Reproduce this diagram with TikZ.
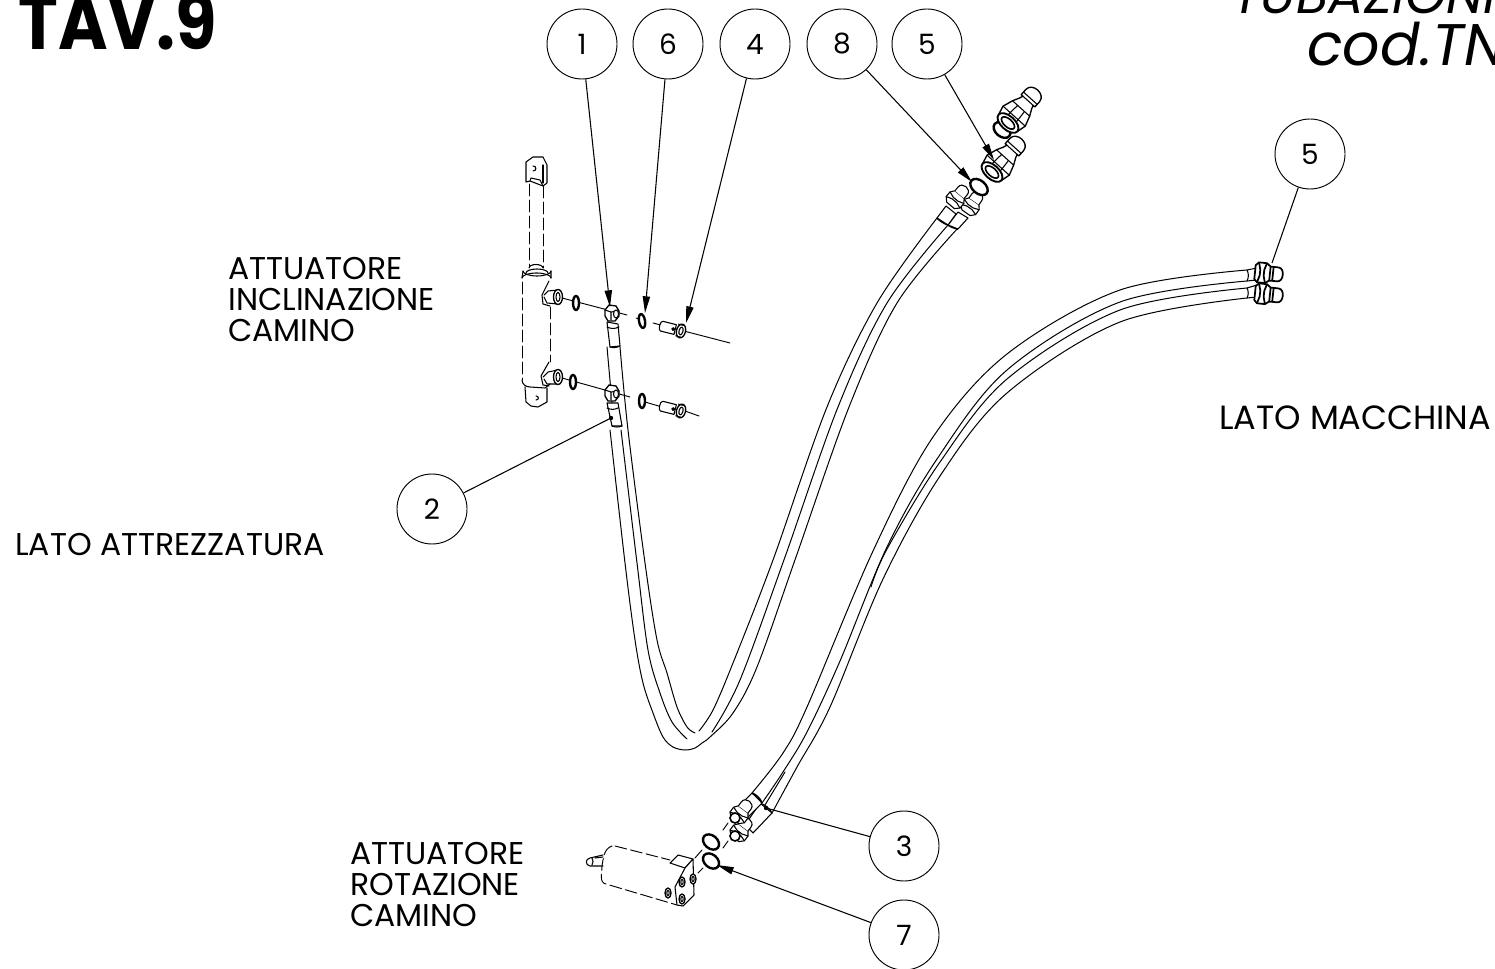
\documentclass[tikz,border=0pt]{standalone}
\usepackage{fontspec}
\setmainfont{Poppins}
\usetikzlibrary{arrows.meta}
\tikzset{
  x=0.75pt,y=-0.75pt,
  thin line/.style={line width=0.7pt,line cap=round,line join=round},
  part/.style={line width=0.8pt,line join=round,line cap=round},
  heavy/.style={line width=1.3pt,line join=round},
  dashline/.style={line width=0.7pt,dash pattern=on 9pt off 3pt},
  hose/.style={line width=0.75pt,line cap=round},
  bubble/.style={circle,draw,line width=0.7pt,minimum size=52.5pt,inner sep=0pt,font=\fontsize{21}{21}\selectfont},
  leader/.style={line width=0.8pt},
  tip/.style={leader,-{Stealth[length=12.5pt,width=5.5pt,inset=0pt]}},
  lbl/.style={inner sep=0pt,anchor=base west,font=\fontsize{23.6}{23.25}\selectfont,align=left},
}
% flat sealing ring: centre x,y, major radius, minor radius, rotation
\newcommand{\seal}[5]{\begin{scope}[shift={(#1,#2)},rotate=#5]
  \draw[line width=1.8pt,fill=white] (0,0) ellipse [x radius=#3,y radius=#4];
\end{scope}}
% hexagon nut with round nose, axis along local x
\newcommand{\hosenut}[3]{\begin{scope}[shift={(#1,#2)},rotate=#3,part]
  \draw[fill=white] (-7,-5)--(-3,-9)--(3,-9)--(7,-6)--(7,6)--(3,9)--(-3,9)--(-7,5)--cycle;
  \draw (-3,-9)--(-1,-3)--(-1,3)--(-3,9) (3,-9)--(1,-3)--(1,3)--(3,9);
  \draw[fill=white] (7,-6)--(12,-6) to[out=0,in=0,looseness=1.5] (12,6)--(7,6);
\end{scope}}
% quick coupling, axis along local x from the open face
\newcommand{\coupling}[3]{\begin{scope}[shift={(#1,#2)},rotate=#3,scale=1.15,part]
  \draw[fill=white,line width=1pt] (0,-11)--(8,-13)--(17,-10)--(23,-7)--(26,-6)--(26,-8)--(32,-8) to[out=0,in=0,looseness=1.4] (32,8)--(26,8)--(26,6)--(23,7)--(17,10)--(8,13)--(0,11)--cycle;
  \draw (8,-13)--(8,13) (17,-10)--(17,10) (2,-5)--(17,-4) (2,5)--(17,4) (26,-6)--(26,6) (29,-8)--(29,8);
  \draw[line width=1.4pt,fill=white] (0,0) ellipse [x radius=6,y radius=11];
  \draw[line width=1.2pt,fill=white] (0,0) ellipse [x radius=3.5,y radius=7];
\end{scope}}
% banjo nut on the actuator side
\newcommand{\banjo}[2]{\begin{scope}[shift={(#1,#2)},part]
  \draw[line width=1pt,fill=white] (-7,-3)--(-3,-8)--(4,-7)--(7,-2)--(7,3)--(3,8)--(-4,8)--(-7,3)--cycle;
  \draw (-7,-3)--(-1,-1)--(7,-2) (-1,-1)--(-1,7);
  \draw[fill=white] (4,1) ellipse [x radius=2.5,y radius=4];
\end{scope}}
% hollow screw
\newcommand{\bolt}[2]{\begin{scope}[shift={(#1,#2)},rotate=-14,part]
  \draw[fill=white] (-20,-5)--(-6,-5)--(-6,5)--(-20,5) to[out=180,in=180,looseness=.7] cycle;
  \draw[fill=black] (-8,0) circle [radius=1.4];
  \draw[line width=1pt,fill=white] (0,0) ellipse [x radius=4.5,y radius=7];
  \draw (0,0) ellipse [x radius=2,y radius=4] (-4,-6)--(1,-6) (-4,6)--(1,6);
\end{scope}}
\begin{document}
\begin{tikzpicture}
\useasboundingbox (0,0) rectangle (1495,969);
\clip (0,0) rectangle (1495,969);

% ---------- hoses, actuator to machine pair
\draw[hose] plot[smooth,tension=.55] coordinates {(620,347)(628,430)(645,563)(657,640)(667,673)(677,707)(687,727)(695,733)};
\draw[hose] plot[smooth,tension=.55] coordinates {(699,731)(713,710)(733,663)(773,560)(827,407)(877,303)(937,218)};
\draw[hose] plot[smooth,tension=.55] coordinates {(610,430)(625,563)(635,640)(643,683)(653,713)(663,737)(673,747)(685,750)(695,748)(702,743)(710,737)(733,713)(757,667)(796,557)(849,407)(897,303)(958,228)};
\draw[hose] plot[smooth,tension=.55] coordinates {(621,430)(637,563)(648,650)(660,693)(672,722)(687,739)};
\draw[hose] plot[smooth,tension=.55] coordinates {(712,732)(740,680)(785,557)(838,407)(887,303)(948,225)};
\draw[hose] (607,347)--(612,403);
% ---------- hoses, rotation actuator to machine
\draw[hose] plot[smooth,tension=.55] coordinates {(1247,270)(1120,290)(1007,354)(933,437)(873,551)(807,707)(783,753)(752,793)};
\draw[hose] plot[smooth,tension=.55] coordinates {(1247,281)(1120,302)(1007,370)(937,459)(887,547)(840,661)(807,732)(783,772)(762,803)};
\draw[hose] plot[smooth,tension=.55] coordinates {(1247,288)(1120,310)(1007,379)(940,462)(887,549)(871,587)};
\draw[hose] (785,772)--(765,805);
\draw[hose] plot[smooth,tension=.55] coordinates {(1247,298)(1120,322)(1007,393)(940,476)(883,579)(830,707)(797,767)(772,813)};

% ---------- upper end of the first pair
\draw[heavy] (937,218) to[bend right=10] (948,225);
\draw[heavy] (948,225) to[bend right=10] (958,229);
\draw[part,fill=white] (948,225)--(958,212)--(968,218)--(958,229)--cycle;
\draw[part,fill=white] (937,218)--(946,206)--(956,214)--(948,225)--cycle;
\hosenut{970}{207}{55}
\hosenut{955}{200}{50}

% ---------- machine end of the second pair
\begin{scope}[part]
\draw[fill=white] (1247,270) to[bend left=25] (1247,281) -- (1257,280) -- (1257,268) -- cycle;
\draw[fill=white] (1247,288) to[bend left=25] (1247,298) -- (1257,297) -- (1257,285) -- cycle;
\end{scope}
\begin{scope}[line width=1.3pt,line join=round]
\foreach \yy in {272,293} {
\begin{scope}[shift={(1255,\yy)},rotate=-6]
\draw[fill=white] (14,-7)--(23,-7) to[out=0,in=0,looseness=1.2] (23,7)--(14,7)--cycle;
\draw[fill=white] (0,-7)--(3,-10)--(11,-10)--(15,-7)--(15,7)--(11,10)--(3,10)--(0,7)--cycle;
\draw (3,-10)--(5,-3)--(5,3)--(3,10) (11,-10)--(9,-3)--(9,3)--(11,10) (18,-7)--(18,7);
\end{scope}}
\end{scope}

% ---------- lower ends of the second pair
\draw[part,fill=white] (760,803)--(772,813)--(753,833)--(745,825)--cycle;
\draw[part] (760,803) to[bend left=20] (772,813);
\draw[part,fill=white] (752,793)--(762,803)--(747,818)--(738,807)--cycle;
\draw[heavy] (752,793) to[bend left=20] (762,803);
\hosenut{739}{833}{53}
\hosenut{739}{815}{53}
\begin{scope}[line width=1.2pt]
\draw[fill=white] (735,818) ellipse [x radius=5,y radius=5];
\draw[fill=white] (735,836) ellipse [x radius=5,y radius=5];
\end{scope}
\draw[thin line] (728,823)--(723,830) (728,841)--(723,848) (702,850)--(695,858) (703,868)--(698,873);
\seal{711}{842}{9}{6.5}{-40}
\seal{711}{861}{9}{6.5}{-40}

% ---------- rotation actuator
\begin{scope}[part]
\draw (603,855)--(590,858) to[out=190,in=170,looseness=1.6] (590,866)--(603,866);
\draw (592,858) to[bend left=30] (592,865);
\draw (595,858)--(603,857);
\draw[dashline] (612,846) to[out=200,in=80] (602,866) to[out=270,in=170] (606,884)--(677,905);
\draw[dashline] (615,846)--(670,860);
\draw (670,863)--(678,855)--(693,859)--(685,868)--cycle;
\draw[fill=white] (693,859)--(694,895)--(683,906)--(677,905)--(675,887)--(685,868)--cycle;
\foreach \sx/\sy in {682/882,693/879,682/899,668/893} {
  \draw[line width=1pt,fill=white] (\sx,\sy) ellipse [x radius=3,y radius=5];
  \draw (\sx,\sy) ellipse [x radius=1.2,y radius=2.5];
}
\end{scope}

% ---------- tilt actuator
\begin{scope}[part]
\draw (526,182)--(526,162)--(533,157)--(543,157)--(547,165)--(547,183)--(543,186)--(530,181)--cycle;
\draw (533,166) to[out=0,in=0,looseness=2] (533,171);
\draw (530,181)--(531,178)--(540,180)--(543,186);
\draw (543,165)--(543,183);
\draw[dashline] (529,184)--(529,266) (543,186)--(543,268);
\draw[fill=white] (523,271) arc [start angle=180,end angle=0,x radius=14,y radius=5];
\draw (523,271)--(522,278) (551,271)--(551,278);
\draw (522,278) arc [start angle=180,end angle=360,x radius=14.5,y radius=5];
\draw (529,268) arc [start angle=180,end angle=360,x radius=7,y radius=3.5];
\draw (526,273) arc [start angle=180,end angle=360,x radius=11,y radius=4];
\draw[dashline] (522,282)--(522,380) (550,307)--(550,362);
\draw (522,380) to[out=270,in=180] (530,387)--(545,388)--(550,384);
\draw (525,387)--(526,402)--(531,406)--(538,407)--(547,402)--(547,388);
\draw (536,396) to[out=0,in=0,looseness=2] (536,400);
\draw (549,281)--(542,295)--(543,304)--(550,306);
\draw (544,295)--(548,291)--(558,290) (544,297)--(547,303)--(558,304);
\draw (549,362)--(541,376)--(543,385)--(549,386);
\draw (543,377)--(548,372)--(558,370) (544,379)--(547,384)--(558,384);
\draw[line width=1pt,fill=white] (558,297) ellipse [x radius=4.5,y radius=7.5];
\draw (558,297) ellipse [x radius=2,y radius=4.5];
\draw[line width=1pt,fill=white] (558,377) ellipse [x radius=4.5,y radius=7.5];
\draw (558,377) ellipse [x radius=2,y radius=4.5];
\end{scope}
\draw[thin line] (562,298)--(627,315) (636,318)--(639,319) (653,323)--(730,343);
\draw[thin line] (562,378)--(630,397) (645,402)--(662,407) (685,411)--(699,416);
\seal{576}{303}{7}{3}{90}
\seal{573}{382}{7}{3}{90}
\seal{642}{321}{7}{3}{100}
\seal{642}{401}{7}{3}{90}
% ferrules
\draw[part,fill=white] (607,322)--(610,347)--(620,346)--(618,324)--cycle;
\draw[part] (607,327) to[bend right=25] (619,327);
\draw[part] (610,347) to[bend right=20] (620,346);
\draw[part,fill=white] (607,403)--(612,426)--(622,426)--(618,403)--cycle;
\draw[part] (612,426) to[bend right=20] (622,426);
\draw[part] (607,408) to[bend right=25] (618,408);
\banjo{612}{313}
\banjo{612}{393}
\bolt{681}{331}
\bolt{681}{411}

% ---------- couplings
\seal{1002}{130}{9.5}{6.5}{-40}
\coupling{1008}{123}{48}
\coupling{992}{172}{48}
\seal{979}{187}{10}{6.5}{-40}

% ---------- balloons
\node[bubble] (n1) at (582,44) {1};
\node[bubble] (n6) at (668,44) {6};
\node[bubble] (n4) at (755,44) {4};
\node[bubble] (n8) at (842,44) {8};
\node[bubble] (n5a) at (927,44) {5};
\node[bubble] (n5b) at (1310,154) {5};
\node[bubble] (n2) at (432,509) {2};
\node[bubble] (n3) at (904,846) {3};
\node[bubble] (n7) at (904,935) {7};
\coordinate (t1) at (610,307);
\coordinate (t6) at (645,313);
\coordinate (t4) at (686,323);
\coordinate (t8) at (972,182);
\coordinate (t5a) at (994,160);
\coordinate (t5b) at (1272,263);
\coordinate (t2) at (611,418);
\coordinate (t3) at (766,808);
\coordinate (t7) at (717,865);
\draw[tip] (n1) -- (t1);
\draw[tip] (n6) -- (t6);
\draw[tip] (n4) -- (t4);
\draw[tip] (n8) -- (t8);
\draw[tip] (n5a) -- (t5a);
\draw[leader] (n5b) -- (t5b);
\draw[leader] (n2) -- (t2);
\fill (t2) circle [radius=2.2];
\draw[leader] (n3) -- (t3);
\fill (t3) circle [radius=2.2];
\draw[tip] (n7) -- (t7);

% ---------- texts
\node[inner sep=0pt,anchor=base west,font=\fontsize{58}{58}\selectfont\bfseries] (title) at (18,50) {\scalebox{.87}[1]{TAV.9}};
\node[inner sep=0pt,anchor=base west,font=\fontsize{39.5}{39.5}\selectfont\itshape] (sub1) at (1232,14) {TUBAZIONI};
\node[inner sep=0pt,anchor=base west,font=\fontsize{44}{44}\selectfont\itshape] (sub2) at (1307,66) {cod.TN};
\node[lbl] (la) at (228,342) {ATTUATORE\\INCLINAZIONE\\CAMINO};
\node[lbl] (lb) at (350,926) {ATTUATORE\\ROTAZIONE\\CAMINO};
\node[lbl] (lc) at (15,555) {LATO ATTREZZATURA};
\node[lbl,font=\fontsize{25.2}{24}\selectfont] (ld) at (1219,430) {LATO MACCHINA};
\end{tikzpicture}
\end{document}
